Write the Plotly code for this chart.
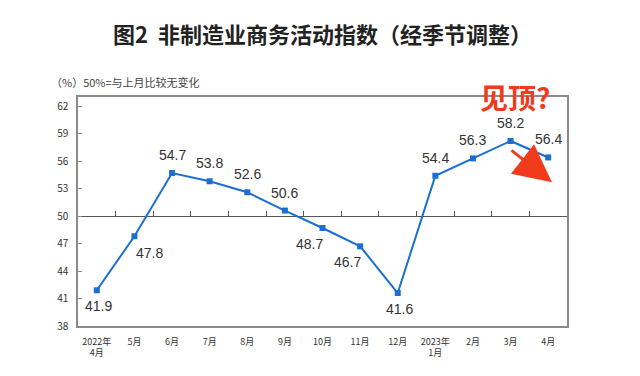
import plotly.graph_objects as go

categories = ["2022年<br>4月", "5月", "6月", "7月", "8月", "9月", "10月", "11月",
              "12月", "2023年<br>1月", "2月", "3月", "4月"]
values = [41.9, 47.8, 54.7, 53.8, 52.6, 50.6, 48.7, 46.7, 41.6, 54.4, 56.3, 58.2, 56.4]
label_pos = ["below", "below-right", "above", "above", "above", "above", "below-left",
             "below-left", "below", "above", "above", "above", "above"]
ytick_vals = [38, 41, 44, 47, 50, 53, 56, 59, 62]
baseline = 50
ymin, ymax = 38, 63

shift_map = {"above": (0, 18), "below": (2, -16), "below-right": (15, -17),
             "below-left": (-13, -16)}

BLUE = "#1a6fd0"
RED = "#f03c1c"
CJK = "Noto Sans CJK SC"

W, H = 640, 376
ML, MR, MT, MB = 78, 73, 97, 50
PW, PH = W - ML - MR, H - MT - MB


def px(x, y):
    """pixel position in the figure -> paper (plot-area) fractions"""
    return (x - ML) / PW, (H - MB - y) / PH


fig = go.Figure()
fig.add_trace(go.Scatter(
    x=categories, y=values, mode="lines+markers",
    line=dict(color=BLUE, width=2),
    marker=dict(symbol="square", size=6, color=BLUE),
    hoverinfo="skip", showlegend=False))
# invisible companion trace for the baseline axis
fig.add_trace(go.Scatter(
    x=list(range(len(values))), y=values, mode="markers", xaxis="x2",
    marker=dict(opacity=0), hoverinfo="skip", showlegend=False))

annotations = []
for i, (v, p) in enumerate(zip(values, label_pos)):
    dx, dy = shift_map[p]
    annotations.append(dict(
        x=i, y=v, xref="x", yref="y", text=f"{v:.1f}", showarrow=False,
        xshift=dx, yshift=dy, xanchor="center", yanchor="middle",
        font=dict(family="Liberation Sans", size=14, color="#333333")))

sx, sy = px(49, 82)
annotations.append(dict(
    text="（%）50%=与上月比较无变化", x=sx, y=sy,
    xref="paper", yref="paper", showarrow=False, xanchor="left", yanchor="middle",
    font=dict(family=CJK, size=11, color="#444444")))

# red commentary
rx, ry = px(515, 97)
annotations.append(dict(
    text="<b>见顶?</b>", x=rx, y=ry, xref="paper", yref="paper",
    showarrow=False, xanchor="center", yanchor="middle",
    font=dict(family=CJK, size=28, color=RED)))
annotations.append(dict(
    x=12.1, y=53.7, xref="x", yref="y", text="", showarrow=True,
    ax=-42, ay=-33, arrowhead=2, arrowsize=2.5, arrowwidth=3.0, arrowcolor=RED))

fig.update_layout(
    width=W, height=H,
    margin=dict(l=ML, r=MR, t=MT, b=MB, autoexpand=False),
    paper_bgcolor="white", plot_bgcolor="white",
    title=dict(text="<b>图2  非制造业商务活动指数（经季节调整）</b>", x=0.5, xanchor="center",
               y=1 - 35 / H, yanchor="middle", xref="paper",
               font=dict(family=CJK, size=22, color="#222222")),
    xaxis=dict(type="category", range=[-0.5, len(values) - 0.5],
               showline=True, linecolor="#8a8a8a", linewidth=1.5, mirror=True,
               ticks="", showgrid=False, zeroline=False, ticklabelstandoff=6,
               tickfont=dict(family=CJK, size=9, color="#333333")),
    xaxis2=dict(overlaying="x", anchor="free",
                position=(baseline - ymin) / (ymax - ymin),
                range=[-0.5, len(values) - 0.5],
                tickvals=[i + 0.5 for i in range(len(values) - 1)],
                ticks="inside", ticklen=5, tickcolor="#555555", tickwidth=1,
                showticklabels=False, showline=True, linecolor="#555555", linewidth=1,
                showgrid=False, zeroline=False, layer="below traces"),
    yaxis=dict(range=[ymin, ymax], tickvals=ytick_vals,
               showline=True, linecolor="#8a8a8a", linewidth=1.5, mirror=True,
               ticks="inside", ticklen=4, tickcolor="#8a8a8a", ticklabelstandoff=6,
               showgrid=False, zeroline=False,
               tickfont=dict(family=CJK, size=10, color="#333333")),
    annotations=annotations,
)

fig.write_html("out.html", config={"displayModeBar": False},
               post_script="document.body.style.margin='0';"
                           "document.body.style.overflow='hidden';")
